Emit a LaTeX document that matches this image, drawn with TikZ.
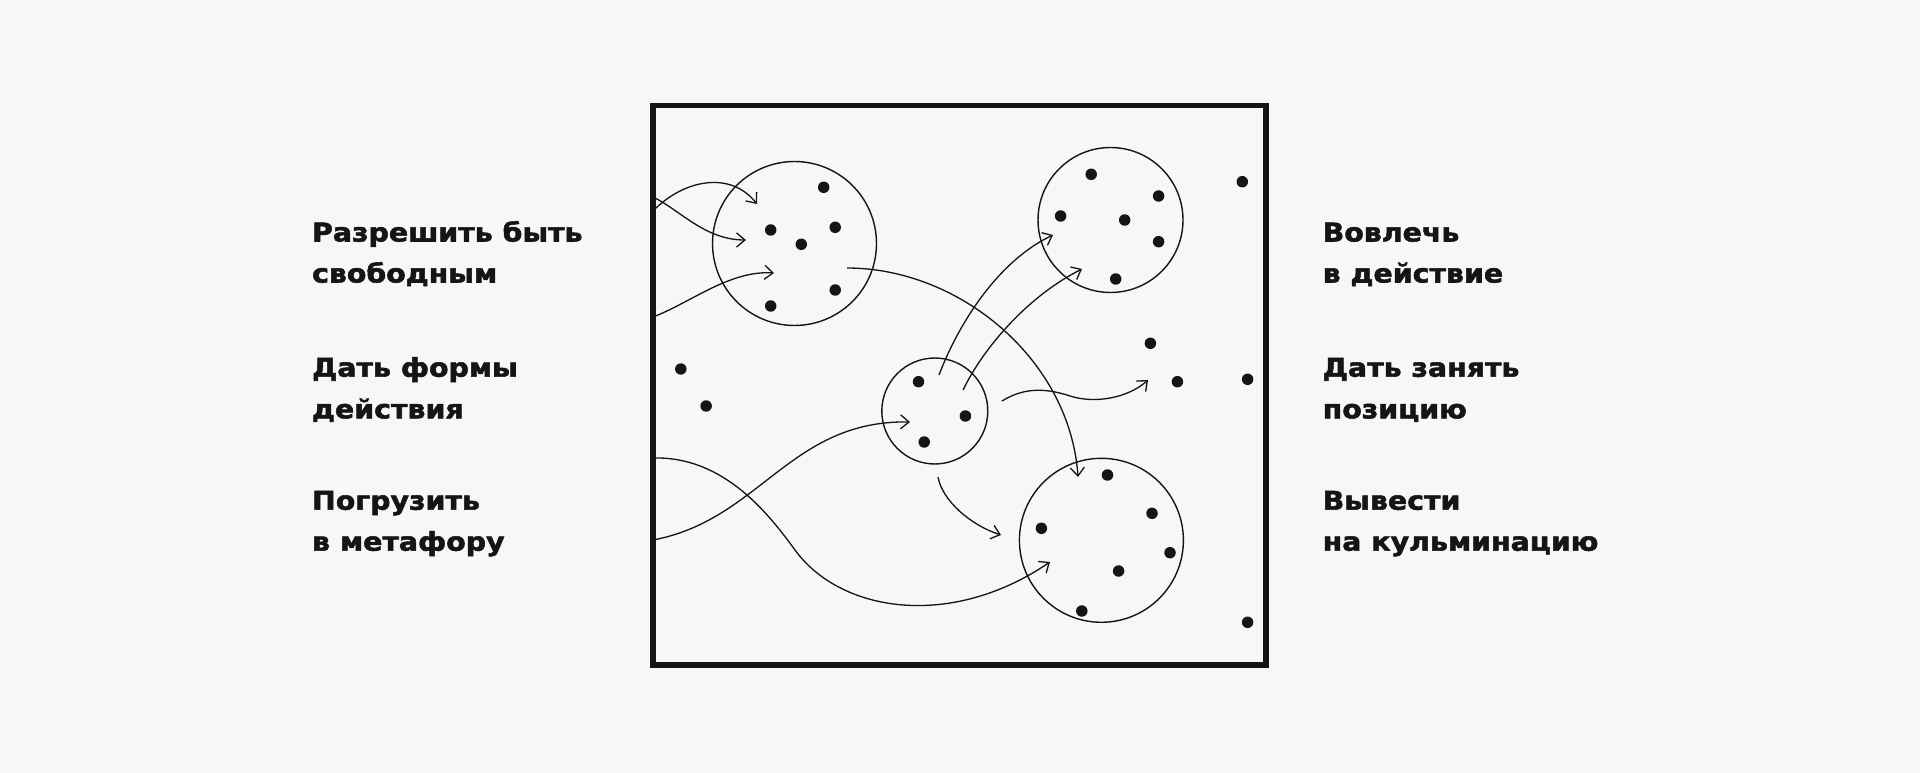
\documentclass[tikz,border=0pt]{standalone}
\usepackage{fontspec}
\setmainfont{DejaVu Sans}
\newfontfamily\lblfont{DejaVu Sans Bold}[FakeStretch=1.1, FakeBold=2]
\usetikzlibrary{arrows.meta}
\definecolor{bg}{HTML}{F7F7F9}
\definecolor{ink}{HTML}{151515}
\begin{document}
\begin{tikzpicture}[x=0.02cm,y=-0.02cm,
  lbl/.style={anchor=base west, inner sep=0pt, font=\lblfont\fontsize{14.7pt}{17pt}\selectfont, text=ink},
  ring/.style={circle, draw=ink, line width=0.8pt, inner sep=0pt},
  dot/.style={circle, fill=ink, inner sep=0pt, minimum size=0.23cm},
  flow/.style={draw=ink, line width=0.75pt, -{Straight Barb[length=4.8pt,width=8pt]}},
  frame/.style={draw=ink, line width=2.9pt}]
\fill[bg] (0,0) rectangle (1920,773);
\useasboundingbox (0,0) rectangle (1920,773);

% frame
\coordinate (ftl) at (653,105.8);
\coordinate (fbr) at (1266,665);

% circles
\node[ring, minimum size=3.28cm] (cA) at (794.5,243.5) {};
\node[ring, minimum size=2.9cm]  (cB) at (1110.5,220) {};
\node[ring, minimum size=2.12cm] (cC) at (934.8,411) {};
\node[ring, minimum size=3.28cm] (cD) at (1101.4,540.3) {};

% dots in A
\node[dot] (a1) at (823.7,187.3) {};
\node[dot] (a2) at (770.7,230) {};
\node[dot] (a3) at (835.2,227.3) {};
\node[dot] (a4) at (801.3,244.3) {};
\node[dot] (a5) at (835.2,290) {};
\node[dot] (a6) at (770.7,306) {};
% dots in B
\node[dot] (b1) at (1091.2,174.3) {};
\node[dot] (b2) at (1158.6,196) {};
\node[dot] (b3) at (1060.6,216) {};
\node[dot] (b4) at (1124.7,220) {};
\node[dot] (b5) at (1158.6,241.7) {};
\node[dot] (b6) at (1115.7,279) {};
% dots in C
\node[dot] (c1) at (918.5,381.7) {};
\node[dot] (c2) at (965.4,416) {};
\node[dot] (c3) at (924.2,442) {};
% dots in D
\node[dot] (e1) at (1107.5,475) {};
\node[dot] (e2) at (1152,513.3) {};
\node[dot] (e3) at (1041.4,528.3) {};
\node[dot] (e4) at (1170,552.7) {};
\node[dot] (e5) at (1118.6,571) {};
\node[dot] (e6) at (1081.8,611) {};
% loose dots
\node[dot] (f1) at (1242.3,181.7) {};
\node[dot] (f2) at (680.8,369) {};
\node[dot] (f3) at (706.1,406) {};
\node[dot] (f4) at (1150.4,343.3) {};
\node[dot] (f5) at (1177.4,381.7) {};
\node[dot] (f6) at (1247.6,379.3) {};
\node[dot] (f7) at (1247.6,622.3) {};

% connector end points
\coordinate (s1) at (653,211);   \coordinate (t1) at (757,204);
\coordinate (s2) at (653,197);   \coordinate (t2) at (746,240);
\coordinate (s3) at (653,317);   \coordinate (t3) at (774,273);
\coordinate (s4) at (847,268);   \coordinate (t4) at (1078,477);
\coordinate (s5) at (939,375);   \coordinate (t5) at (1053,235);
\coordinate (s6) at (963,390);   \coordinate (t6) at (1082,269);
\coordinate (s7) at (1002,401);  \coordinate (m7) at (1070,396); \coordinate (t7) at (1148,380);
\coordinate (s8) at (653,540);   \coordinate (t8) at (910,422);
\coordinate (s9) at (653,458);   \coordinate (m9) at (795,550);  \coordinate (t9) at (1050,562);
\coordinate (s10) at (938,477);  \coordinate (t10) at (1001,535);

\path[flow] (s1) .. controls (683,180) and (730,170) .. (t1);
\path[flow] (s2) .. controls (680,210) and (705,240) .. (t2);
\path[flow] (s3) .. controls (690,303) and (730,270) .. (t3);
\path[flow] (s4) .. controls (960,268) and (1070,360) .. (t4);
\path[flow] (s5) .. controls (960,320) and (1000,260) .. (t5);
\path[flow] (s6) .. controls (985,345) and (1030,295) .. (t6);
\path[flow] (s7) .. controls (1020,390) and (1040,386) .. (m7)
                 .. controls (1095,404) and (1128,398) .. (t7);
\path[flow] (s8) .. controls (760,520) and (790,420) .. (t8);
\path[flow] (s9) .. controls (725,456) and (770,516) .. (m9)
                 .. controls (840,612) and (950,630) .. (t9);
\path[flow] (s10) .. controls (942,500) and (970,525) .. (t10);

\draw[frame] (ftl) rectangle (fbr);

% labels left
\node[lbl] (l1a) at (311.7,241.5) {Разрешить быть};
\node[lbl] (l1b) at (311.7,282.5) {свободным};
\node[lbl] (l2a) at (311.7,376.7) {Дать формы};
\node[lbl] (l2b) at (311.7,418.3) {действия};
\node[lbl] (l3a) at (311.7,509.7) {Погрузить};
\node[lbl] (l3b) at (311.7,550.7) {в метафору};
% labels right
\node[lbl] (r1a) at (1322.3,241.5) {Вовлечь};
\node[lbl] (r1b) at (1322.3,282.5) {в действие};
\node[lbl] (r2a) at (1322.3,376.7) {Дать занять};
\node[lbl] (r2b) at (1322.3,418.3) {позицию};
\node[lbl] (r3a) at (1322.3,509.7) {Вывести};
\node[lbl] (r3b) at (1322.3,550.7) {на кульминацию};
\end{tikzpicture}
\end{document}
